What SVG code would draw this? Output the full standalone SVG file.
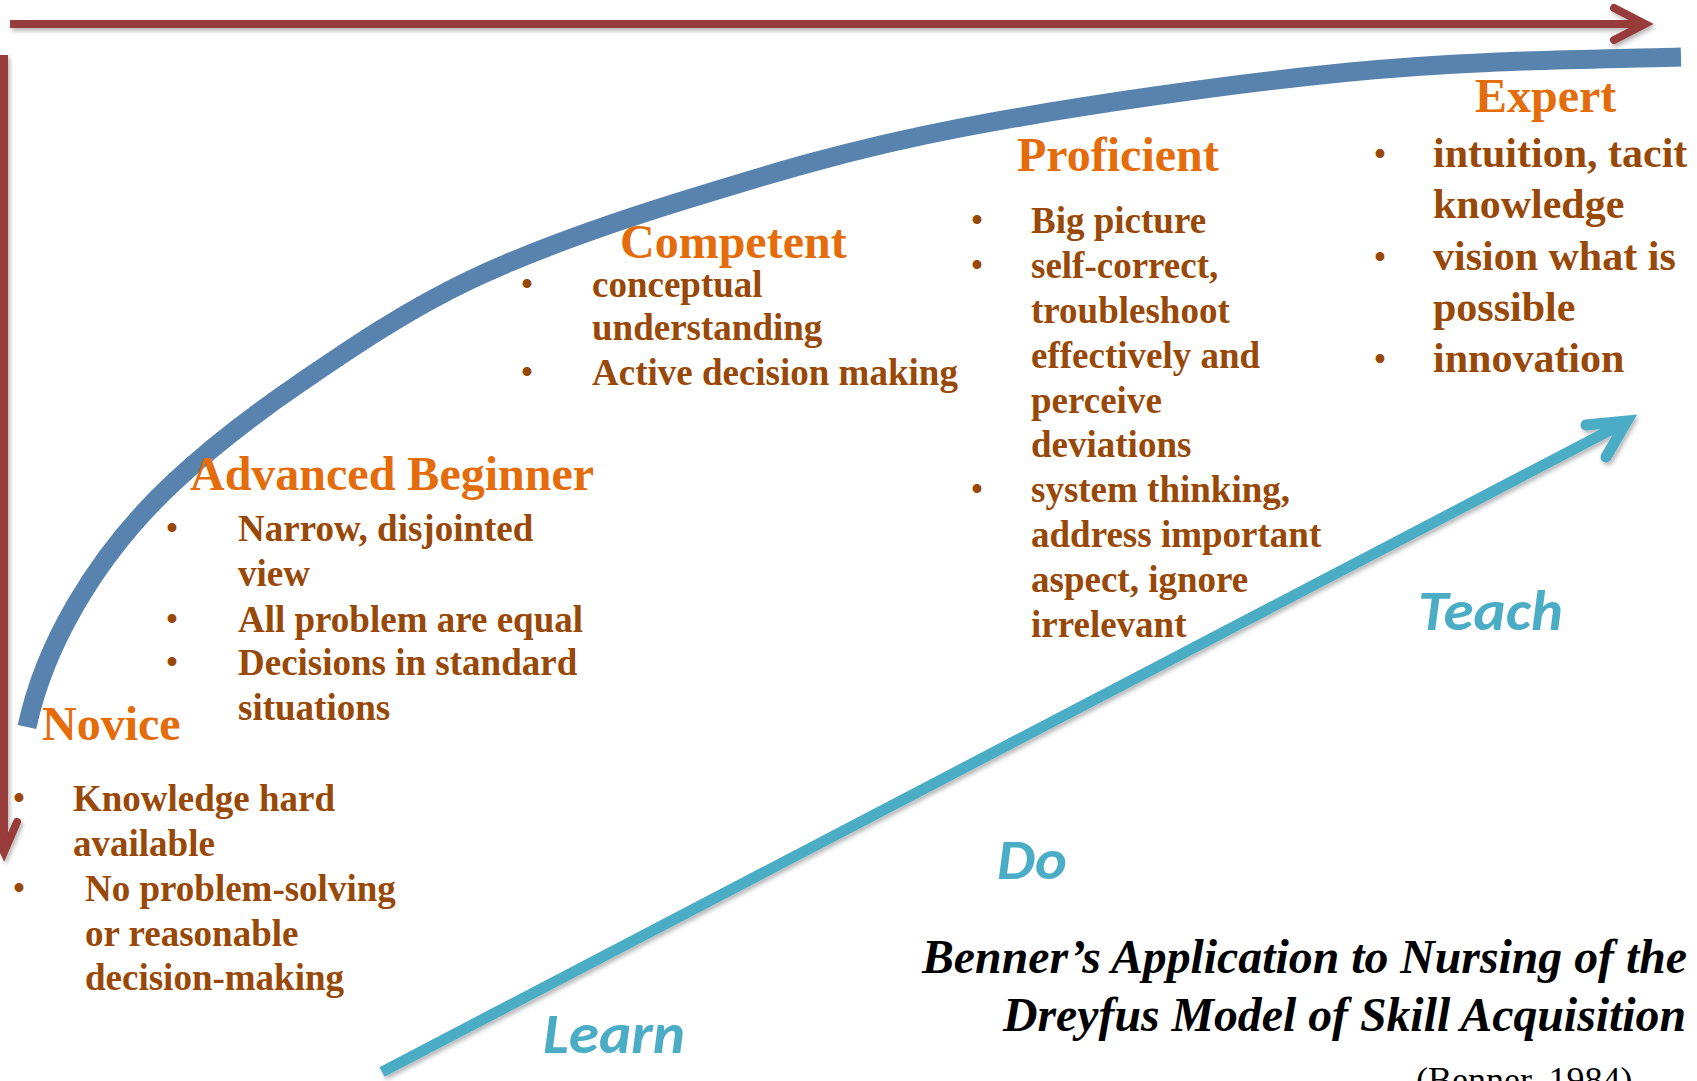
<svg xmlns="http://www.w3.org/2000/svg" width="1697" height="1081" viewBox="0 0 1697 1081">
  <defs>
    <filter id="shadow" filterUnits="userSpaceOnUse" x="-50" y="-50" width="1800" height="1200">
      <feDropShadow dx="2" dy="3" stdDeviation="2" flood-color="#000" flood-opacity="0.28"/>
    </filter>
    <style>
      .axis { fill: none; stroke: #983A3A; stroke-width: 8; stroke-linecap: round; stroke-linejoin: miter; }
      .axis-line { fill: none; stroke: #983A3A; stroke-width: 8; stroke-linecap: butt; }
      .curve { fill: none; stroke: #5883AE; stroke-width: 19; stroke-linecap: butt; }
      .path-line { fill: none; stroke: #4BACC6; stroke-width: 11; stroke-linecap: butt; }
      .path-head { fill: none; stroke: #4BACC6; stroke-width: 11; stroke-linecap: round; stroke-linejoin: miter; }
      .h { font-family: 'Liberation Serif', 'Times New Roman', serif; font-weight: bold; font-size: 48px; fill: #E46C0A; }
      .b { font-family: 'Liberation Serif', 'Times New Roman', serif; font-weight: bold; font-size: 37px; fill: #984807; }
      .bx { font-size: 42px; }
      .dot { font-family: 'Liberation Serif', 'Times New Roman', serif; font-size: 37px; fill: #984807; text-anchor: middle; }
      .step { font-family: Carlito, 'Open Sans', sans-serif; font-weight: bold; font-style: italic; font-size: 56px; fill: #4BACC6; }
      .title { font-family: 'Liberation Serif', 'Times New Roman', serif; font-weight: bold; font-style: italic; font-size: 48px; fill: #000; }
      .cite { font-family: 'Liberation Serif', 'Times New Roman', serif; font-size: 36px; fill: #000; }
    </style>
  </defs>
  <rect width="1697" height="1081" fill="#fff"/>

  <!-- axes, growth curve and learn/do/teach arrow -->
  <g id="connectors">
    <g filter="url(#shadow)">
      <line class="axis-line" x1="10" y1="24" x2="1641" y2="24"/>
      <polyline class="axis" points="1614,8 1645,24 1614,40"/>
      <line class="axis-line" x1="4" y1="55" x2="4" y2="848"/>
      <polyline class="axis" points="-10,822 4,852 17,822"/>
    </g>
    <path class="curve" d="M27,727 C43.6,648.8 92.8,558.3 173,483 C211.5,446.8 250.5,416.8 300,383 C349.5,349.2 405.8,310.5 470,280 C534.2,249.5 603.3,225.3 685,200 C766.7,174.7 849.2,149.3 960,128 C1070.8,106.7 1229.8,83.8 1350,72 C1470.2,60.2 1570.7,60 1681,57"/>
    <g filter="url(#shadow)">
      <line class="path-line" x1="382" y1="1072" x2="1622" y2="424"/>
      <polyline class="path-head" points="1586,425 1627,421 1606,457"/>
    </g>
  </g>

  <g id="novice">
    <text class="h" x="42" y="740">Novice</text>
    <text class="dot" x="19" y="811">•</text>
    <text class="b" x="73" y="811">Knowledge hard</text>
    <text class="b" x="73" y="856">available</text>
    <text class="dot" x="19" y="901">•</text>
    <text class="b" x="85" y="901">No problem-solving</text>
    <text class="b" x="85" y="946">or reasonable</text>
    <text class="b" x="85" y="990">decision-making</text>
  </g>

  <g id="advanced-beginner">
    <text class="h" x="190" y="490">Advanced Beginner</text>
    <text class="dot" x="172" y="541">•</text>
    <text class="b" x="238" y="541">Narrow, disjointed</text>
    <text class="b" x="238" y="586">view</text>
    <text class="dot" x="172" y="632">•</text>
    <text class="b" x="238" y="632">All problem are equal</text>
    <text class="dot" x="172" y="675">•</text>
    <text class="b" x="238" y="675">Decisions in standard</text>
    <text class="b" x="238" y="720">situations</text>
  </g>

  <g id="competent">
    <text class="h" x="620" y="258">Competent</text>
    <text class="dot" x="527" y="297">•</text>
    <text class="b" x="592" y="297">conceptual</text>
    <text class="b" x="592" y="340">understanding</text>
    <text class="dot" x="527" y="385">•</text>
    <text class="b" x="592" y="385">Active decision making</text>
  </g>

  <g id="proficient">
    <text class="h" x="1017" y="171">Proficient</text>
    <text class="dot" x="977" y="233">•</text>
    <text class="b" x="1031" y="233">Big picture</text>
    <text class="dot" x="977" y="278">•</text>
    <text class="b" x="1031" y="278">self-correct,</text>
    <text class="b" x="1031" y="323">troubleshoot</text>
    <text class="b" x="1031" y="368">effectively and</text>
    <text class="b" x="1031" y="413">perceive</text>
    <text class="b" x="1031" y="457">deviations</text>
    <text class="dot" x="977" y="502">•</text>
    <text class="b" x="1031" y="502">system thinking,</text>
    <text class="b" x="1031" y="547">address important</text>
    <text class="b" x="1031" y="592">aspect, ignore</text>
    <text class="b" x="1031" y="637">irrelevant</text>
  </g>

  <g id="expert">
    <text class="h" x="1475" y="112">Expert</text>
    <text class="dot bx" x="1380" y="167">•</text>
    <text class="b bx" x="1433" y="167">intuition, tacit</text>
    <text class="b bx" x="1433" y="218">knowledge</text>
    <text class="dot bx" x="1380" y="270">•</text>
    <text class="b bx" x="1433" y="270">vision what is</text>
    <text class="b bx" x="1433" y="321">possible</text>
    <text class="dot bx" x="1380" y="372">•</text>
    <text class="b bx" x="1433" y="372">innovation</text>
  </g>

  <g id="steps">
    <text class="step" x="543" y="1053" textLength="142" lengthAdjust="spacingAndGlyphs">Learn</text>
    <text class="step" x="997" y="879" textLength="70" lengthAdjust="spacingAndGlyphs">Do</text>
    <text class="step" x="1418" y="630" textLength="145" lengthAdjust="spacingAndGlyphs">Teach</text>
  </g>

  <g id="title">
    <text class="title" x="922" y="973" textLength="765" lengthAdjust="spacingAndGlyphs">Benner’s Application to Nursing of the</text>
    <text class="title" x="1003" y="1031" textLength="683" lengthAdjust="spacingAndGlyphs">Dreyfus Model of Skill Acquisition</text>
    <text class="cite" x="1416" y="1092">(Benner, 1984)</text>
  </g>
</svg>
